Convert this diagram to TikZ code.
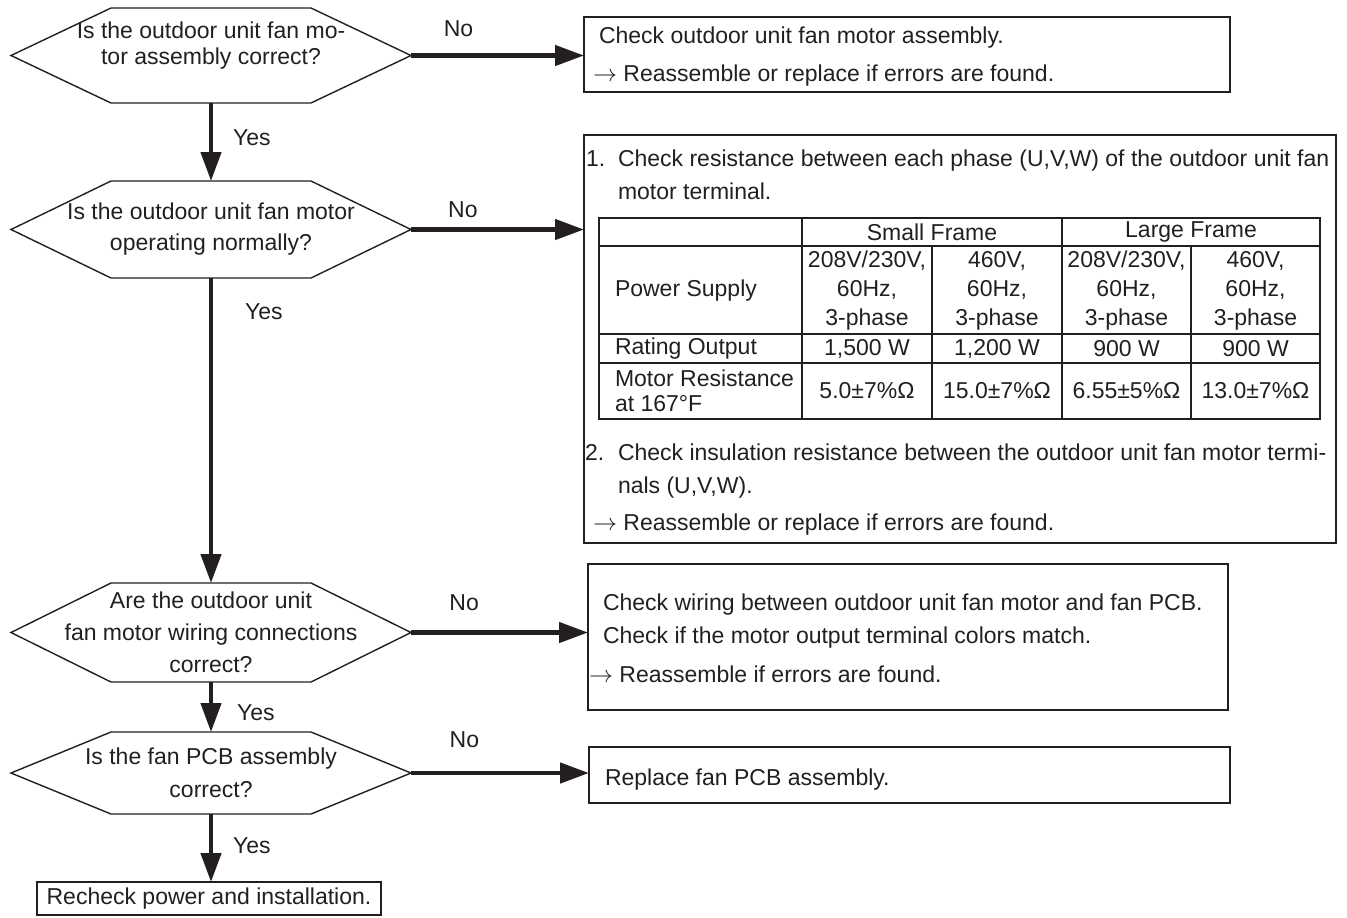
\documentclass[tikz,border=0pt]{standalone}
\usepackage{fontspec}
\setmainfont{Liberation Sans}
\usepackage{tikz}
\usetikzlibrary{arrows.meta, positioning}
\definecolor{ink}{RGB}{35,31,32}

\begin{document}
\begin{tikzpicture}[x=0.5pt, y=-0.5pt, ink,
    every node/.style={font=\fontsize{11.5}{15.5}\selectfont, text=ink, inner sep=0pt, outer sep=0pt},
    decision/.style={minimum width=200pt, align=center},
    hexline/.style={line width=0.7pt},
    result/.style={draw, line width=0.85pt},
    boxtext/.style={anchor=base west},
    tabline/.style={line width=1pt},
    flow/.style={line width=2.25pt, -{Triangle[length=14.5pt, width=10pt]}}]
  \useasboundingbox (0,0) rectangle (1347,917);

  \node[decision, minimum height=47.5pt, text depth=12pt, font=\fontsize{11.5}{13}\selectfont] (q1) at (211,55.5) {Is the outdoor unit fan mo-\\tor assembly correct?};
  \node[decision, minimum height=48.5pt] (q2) at (211,229.5) {Is the outdoor unit fan motor\\operating normally?};
  \node[decision, minimum height=49.5pt, font=\fontsize{11.5}{16}\selectfont] (q3) at (211,632.5) {Are the outdoor unit\\fan motor wiring connections\\correct?};
  \node[decision, minimum height=41pt, font=\fontsize{11.5}{16.5}\selectfont] (q4) at (211,773) {Is the fan PCB assembly\\correct?};
  \foreach \n in {q1,q2,q3,q4}
    \draw[hexline] ([xshift=50pt]\n.north west) -- ([xshift=-50pt]\n.north east) -- (\n.east)
      -- ([xshift=-50pt]\n.south east) -- ([xshift=50pt]\n.south west) -- (\n.west) -- cycle;

  \node[result, minimum width=323pt, minimum height=37.5pt] (b1) at (907,54.5) {};
  \node[boxtext] (b1a) at (599,43) {Check outdoor unit fan motor assembly.};
  \node[boxtext] (b1b) at (593,81) {$\rightarrow$ Reassemble or replace if errors are found.};

  \node[result, minimum width=376pt, minimum height=204pt] (b2) at (960,339) {};
  \node[boxtext] (n1) at (586,166) {1.};
  \node[boxtext] (b2a) at (618,166) {Check resistance between each phase (U,V,W) of the outdoor unit fan};
  \node[boxtext] (b2a2) at (618,199) {motor terminal.};
  \node[boxtext] (n2) at (585,460) {2.};
  \node[boxtext] (b2b) at (618,460) {Check insulation resistance between the outdoor unit fan motor termi-};
  \node[boxtext] (b2b2) at (618,493) {nals (U,V,W).};
  \node[boxtext] (b2c) at (593,530) {$\rightarrow$ Reassemble or replace if errors are found.};

  \draw[tabline] (599,218) rectangle (1320,419);
  \foreach \y in {246,334,363} \draw[tabline] (599,\y) -- (1320,\y);
  \foreach \x in {802,1062} \draw[tabline] (\x,218) -- (\x,419);
  \foreach \x in {932,1191} \draw[tabline] (\x,246) -- (\x,419);
  \node (sf) at (932,232) {Small Frame};
  \node (lf) at (1191,232) {Large Frame};
  \node[anchor=west] (ps) at (615,291) {Power Supply};
  \node[anchor=west] (ro) at (615,348.5) {Rating Output};
  \node[anchor=west, align=left, font=\fontsize{11.5}{12.5}\selectfont] (mr) at (615,391) {Motor Resistance\\at 167°F};
  \foreach \x [count=\i] in {867,1126.5}
    \node[align=center, font=\fontsize{11.5}{14.5}\selectfont] (hv\i) at (\x,291) {208V/230V,\\60Hz,\\3-phase};
  \foreach \x [count=\i] in {997,1255.5}
    \node[align=center, font=\fontsize{11.5}{14.5}\selectfont] (lv\i) at (\x,291) {460V,\\60Hz,\\3-phase};
  \foreach \x/\w/\m [count=\i] in {867/{1,500 W}/{5.0±7\%Ω}, 997/{1,200 W}/{15.0±7\%Ω}, 1126.5/{900 W}/{6.55±5\%Ω}, 1255.5/{900 W}/{13.0±7\%Ω}} {
    \node (ro\i) at (\x,348.5) {\w};
    \node (mr\i) at (\x,391) {\m};
  }

  \node[result, minimum width=320pt, minimum height=73pt] (b3) at (908,637) {};
  \node[boxtext] (b3a) at (603,610) {Check wiring between outdoor unit fan motor and fan PCB.};
  \node[boxtext] (b3b) at (603,643) {Check if the motor output terminal colors match.};
  \node[boxtext] (b3c) at (589,682) {$\rightarrow$ Reassemble if errors are found.};

  \node[result, minimum width=320.5pt, minimum height=28pt] (b4) at (909.5,775) {};
  \node[boxtext] (b4a) at (605,785) {Replace fan PCB assembly.};

  \node[result, minimum width=172pt, minimum height=16.5pt] (r) at (209,898.5) {Recheck power and installation.};

  \draw[flow] (q1.east) -- node[pos=.275, above=9.5pt] (no1) {No} (q1.east -| b1.west);
  \draw[flow] (q2.east) -- node[pos=.3, above=6pt] (no2) {No} (q2.east -| b2.west);
  \draw[flow] (q3.east) -- node[pos=.3, above=11pt] (no3) {No} (q3.east -| b3.west);
  \draw[flow] (q4.east) -- node[pos=.3, above=12.5pt] (no4) {No} (q4.east -| b4.west);
  \draw[flow] (q1.south) -- node[pos=.44, right=11pt] (yes1) {Yes} (q1.south |- q2.north);
  \draw[flow] (q2.south) -- node[pos=.11, right=17pt] (yes2) {Yes} (q2.south |- q3.north);
  \draw[flow] (q3.south) -- node[pos=.62, right=13pt] (yes3) {Yes} (q3.south |- q4.north);
  \draw[flow] (q4.south) -- node[pos=.47, right=11pt] (yes4) {Yes} (q4.south |- r.north);
\end{tikzpicture}
\end{document}
